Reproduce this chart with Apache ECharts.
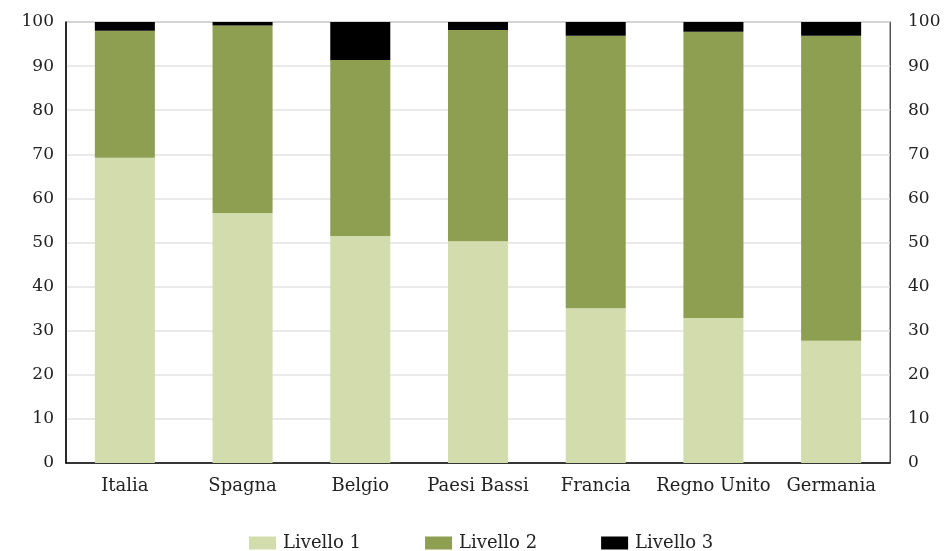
<!DOCTYPE html>
<html>
<head>
<meta charset="utf-8">
<script src="https://cdn.jsdelivr.net/npm/echarts@6/dist/echarts.min.js"></script>
<style>
html, body { margin: 0; padding: 0; background: #fff; }
#chart { width: 946px; height: 551px; }
</style>
</head>
<body>
<div id="chart"></div>
<script>
// categorie (paesi)
var paesi = ['Italia', 'Spagna', 'Belgio', 'Paesi Bassi', 'Francia', 'Regno Unito', 'Germania'];
// quote per livello (valori in percentuale, impilati)
var livello1 = [69.2, 56.7, 51.5, 50.3, 35.1, 32.9, 27.7];
var livello2 = [28.8, 42.5, 39.9, 47.9, 61.8, 64.9, 69.2];
var livello3 = [2.0, 0.8, 8.6, 1.8, 3.1, 2.2, 3.1];

var font = 'DejaVu Serif';

function serie(nome, dati, colore) {
    return {
        name: nome,
        type: 'bar',
        stack: 'tot',
        barWidth: '51%',
        data: dati,
        itemStyle: { color: colore }
    };
}

var chart = echarts.init(document.getElementById('chart'));
chart.setOption({
    animation: false,
    textStyle: { fontFamily: font },
    grid: {
        left: 66, right: 56, top: 22, bottom: 88,
        show: true,
        borderColor: '#555',
        borderWidth: 1
    },
    legend: {
        top: 529,
        left: 244,
        padding: 5,
        itemWidth: 27,
        itemHeight: 13,
        itemGap: 64,
        icon: 'rect',
        textStyle: { fontFamily: font, fontSize: 18, color: '#222', padding: [0, 0, 0, 2] },
        data: ['Livello 1', 'Livello 2', 'Livello 3']
    },
    xAxis: {
        type: 'category',
        data: paesi,
        axisLine: { lineStyle: { color: '#000', width: 1.5 } },
        axisTick: { inside: true, length: 6, lineStyle: { color: '#000' } },
        axisLabel: { interval: 0, fontFamily: font, fontSize: 18, color: '#222', margin: 14 }
    },
    yAxis: [{
        type: 'value',
        min: 0, max: 100, interval: 10,
        axisLine: { show: true, lineStyle: { color: '#000', width: 1.5 } },
        axisTick: { show: false },
        splitLine: { lineStyle: { color: '#e3e3e3', width: 1.5 } },
        axisLabel: { fontFamily: font, fontSize: 17, color: '#222', margin: 12 }
    }, {
        type: 'value',
        min: 0, max: 100, interval: 10,
        position: 'right',
        axisLine: { show: true, lineStyle: { color: '#555', width: 1 } },
        axisTick: { show: false },
        splitLine: { show: false },
        axisLabel: { fontFamily: font, fontSize: 17, color: '#222', margin: 18 }
    }],
    series: [
        serie('Livello 1', livello1, '#d3dcac'),
        serie('Livello 2', livello2, '#8f9f52'),
        serie('Livello 3', livello3, '#000000')
    ]
});
</script>
</body>
</html>
